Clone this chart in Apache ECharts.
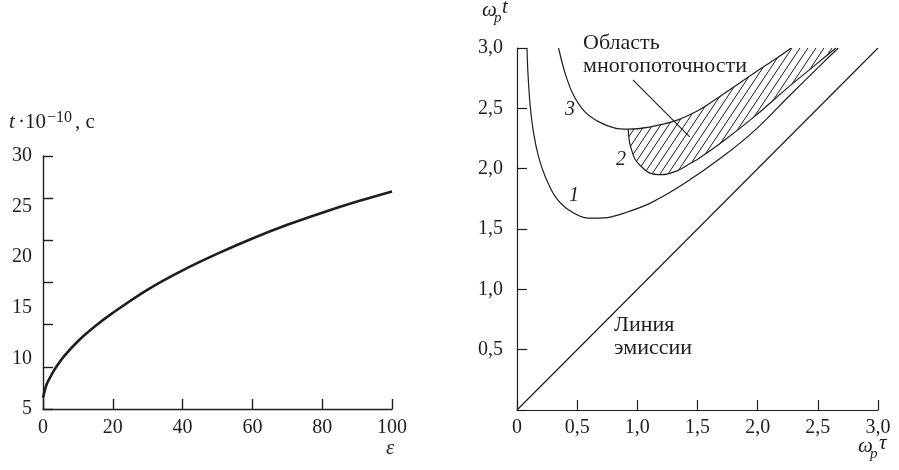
<!DOCTYPE html>
<html><head><meta charset="utf-8">
<script src="https://cdn.jsdelivr.net/npm/echarts@6/dist/echarts.min.js"></script>
<style>html,body{margin:0;padding:0;background:#fff}#c{width:899px;height:470px}</style>
</head><body><div id="c"></div>
<script>
// ---- Left chart data ----
const epsValues = [0, 1, 2, 3.5, 6, 10, 15, 20, 30, 40, 50, 60, 70, 80, 90, 100];
const tValues   = [6.1, 7.4, 8.1, 9.0, 10.2, 11.7, 13.2, 14.5, 16.8, 18.7, 20.35, 21.85, 23.2, 24.4, 25.5, 26.5];
const leftXLabels = [0, 20, 40, 60, 80, 100];
const leftYLabels = [5, 10, 15, 20, 25, 30];
const leftYTicks  = [5, 9.17, 13.33, 17.5, 21.67, 25.83, 30];

// ---- Right chart data ----
const curve1Tau = [0.083, 0.091, 0.11, 0.138, 0.179, 0.234, 0.317, 0.427, 0.593, 0.75, 0.90, 1.10, 1.38, 1.71, 1.99, 2.26, 2.54, 2.67];
const curve1T   = [3.0,   2.79,  2.515, 2.294, 2.10, 1.935, 1.77,  1.66,  1.59,  1.595, 1.635, 1.71, 1.87, 2.10, 2.33, 2.60, 2.875, 3.0];
const curve2Tau = [0.924, 0.935, 0.952, 0.98, 1.02, 1.10, 1.20, 1.325, 1.435, 1.52, 1.71, 1.99, 2.26, 2.48, 2.65];
const curve2T   = [2.327, 2.22,  2.156, 2.08, 2.03, 1.965, 1.95, 1.98, 2.04, 2.09, 2.225, 2.446, 2.68, 2.86, 3.0];
const curve3Tau = [0.345, 0.40, 0.469, 0.565, 0.676, 0.814, 0.924, 1.10, 1.325, 1.52, 1.71, 1.99, 2.15, 2.28];
const curve3T   = [3.0,   2.79, 2.61,  2.47,  2.39,  2.336, 2.327, 2.345, 2.40, 2.49, 2.615, 2.805, 2.91, 3.0];
const emissionTau = [0, 3];
const emissionT   = [0, 3];
const leaderTau = [0.963, 1.435];
const leaderT   = [2.736, 2.264];
const hatchStartTau = 0.924;

const zip = (a, b) => a.map((v, i) => [v, b[i]]);
const INK = '#1e1e1e';
const SERIF = 'Liberation Serif';
const comma = v => v === 0 ? '0' : v.toFixed(1).replace('.', ',');

function hatchCanvas() {
  const w = 8, h = 12;
  const c = document.createElement('canvas');
  c.width = w; c.height = h;
  const g = c.getContext('2d');
  g.strokeStyle = INK; g.lineWidth = 1;
  for (const o of [-w, 0, w]) {
    g.beginPath(); g.moveTo(o, h); g.lineTo(o + w, 0); g.stroke();
  }
  return c;
}
const hatchImg = hatchCanvas();

const upper = zip(curve3Tau, curve3T).filter(p => p[0] >= hatchStartTau);
const lower = zip(curve2Tau, curve2T).filter(p => p[0] >= hatchStartTau);
const hatchPoly = upper.concat(lower.slice().reverse());

const chart = echarts.init(document.getElementById('c'), null, {renderer: 'canvas'});

const axisCommon = (extra) => Object.assign({
  type: 'value',
  splitLine: {show: false},
  axisLine: {onZero: false, lineStyle: {color: INK, width: 1.4}},
  axisTick: {inside: true, length: 10, lineStyle: {color: INK, width: 1.4}},
  axisLabel: {color: INK, fontFamily: SERIF, fontSize: 20}
}, extra);

chart.setOption({
  animation: false,
  backgroundColor: '#fff',
  grid: [
    {left: 43, top: 156, width: 349, height: 253},
    {left: 517, top: 48, width: 361, height: 362}
  ],
  xAxis: [
    axisCommon({gridIndex: 0, min: 0, max: 100, interval: 20,
      axisLabel: {color: INK, fontFamily: SERIF, fontSize: 20, margin: 9, customValues: leftXLabels}}),
    axisCommon({gridIndex: 1, min: 0, max: 3, interval: 0.5,
      axisLine: {onZero: false, lineStyle: {color: INK, width: 1.2}},
      axisTick: {inside: true, length: 10, lineStyle: {color: INK, width: 1.2}},
      axisLabel: {color: INK, fontFamily: SERIF, fontSize: 20, margin: 8, formatter: comma}})
  ],
  yAxis: [
    axisCommon({gridIndex: 0, min: 5, max: 30, interval: 5,
      axisTick: {inside: true, length: 10, customValues: leftYTicks, lineStyle: {color: INK, width: 1.4}},
      axisLabel: {color: INK, fontFamily: SERIF, fontSize: 20, margin: 11, customValues: leftYLabels}}),
    axisCommon({gridIndex: 1, min: 0, max: 3, interval: 0.5,
      axisLine: {onZero: false, lineStyle: {color: INK, width: 1.2}},
      axisTick: {inside: true, length: 10, lineStyle: {color: INK, width: 1.2}},
      axisLabel: {color: INK, fontFamily: SERIF, fontSize: 20, margin: 14,
        formatter: v => v === 0 ? '' : comma(v)}})
  ],
  series: [
    {type: 'line', xAxisIndex: 0, yAxisIndex: 0, data: zip(epsValues, tValues), smooth: 0.35,
      symbol: 'none', lineStyle: {color: INK, width: 2.6}},
    {type: 'custom', xAxisIndex: 1, yAxisIndex: 1, data: [hatchPoly[0]], clip: false, silent: true, z: 1,
      renderItem: (params, api) => ({
        type: 'polygon',
        shape: {points: hatchPoly.map(p => api.coord(p))},
        style: {fill: {image: hatchImg, repeat: 'repeat'}, stroke: null}
      })},
    {type: 'line', xAxisIndex: 1, yAxisIndex: 1, data: zip(curve1Tau, curve1T), smooth: 0.3,
      symbol: 'none', lineStyle: {color: INK, width: 1.2}, z: 3},
    {type: 'line', xAxisIndex: 1, yAxisIndex: 1, data: zip(curve2Tau, curve2T), smooth: 0.3,
      symbol: 'none', lineStyle: {color: INK, width: 1.2}, z: 3},
    {type: 'line', xAxisIndex: 1, yAxisIndex: 1, data: zip(curve3Tau, curve3T), smooth: 0.3,
      symbol: 'none', lineStyle: {color: INK, width: 1.2}, z: 3},
    {type: 'line', xAxisIndex: 1, yAxisIndex: 1, data: zip(emissionTau, emissionT),
      symbol: 'none', lineStyle: {color: INK, width: 1.2}, z: 3},
    {type: 'line', xAxisIndex: 1, yAxisIndex: 1, data: zip(leaderTau, leaderT),
      symbol: 'none', lineStyle: {color: INK, width: 1.1}, z: 3}
  ],
  graphic: [
    // left axis title: t·10^-10, с
    {type: 'text', left: 9, top: 112, style: {text: 't', font: 'italic 21px "Liberation Serif"', fill: INK}},
    {type: 'text', left: 18, top: 112, style: {text: '·10', font: '21px "Liberation Serif"', fill: INK}},
    {type: 'text', left: 47, top: 110, style: {text: '−10', font: '16px "Liberation Serif"', fill: INK}},
    {type: 'text', left: 75, top: 112, style: {text: ', с', font: '21px "Liberation Serif"', fill: INK}},
    {type: 'text', left: 386, top: 438, style: {text: 'ε', font: 'italic 21px "Liberation Serif"', fill: INK}},
    // right axis titles
    {type: 'text', left: 482, top: 0, style: {text: 'ω', font: 'italic 21px "Liberation Serif"', fill: INK}},
    {type: 'text', left: 494, top: 11, style: {text: 'p', font: 'italic 15px "Liberation Serif"', fill: INK}},
    {type: 'text', left: 502, top: -3, style: {text: 't', font: 'italic 21px "Liberation Serif"', fill: INK}},
    {type: 'text', left: 858, top: 436, style: {text: 'ω', font: 'italic 21px "Liberation Serif"', fill: INK}},
    {type: 'text', left: 870, top: 447, style: {text: 'p', font: 'italic 15px "Liberation Serif"', fill: INK}},
    {type: 'text', left: 879, top: 433, style: {text: 'τ', font: 'italic 21px "Liberation Serif"', fill: INK}},
    // curve numbers
    {type: 'text', left: 565, top: 100, style: {text: '3', font: 'italic 20px "Liberation Serif"', fill: INK}},
    {type: 'text', left: 616, top: 150, style: {text: '2', font: 'italic 20px "Liberation Serif"', fill: INK}},
    {type: 'text', left: 569, top: 186, style: {text: '1', font: 'italic 20px "Liberation Serif"', fill: INK}},
    // annotations
    {type: 'text', left: 583, top: 32, style: {text: 'Область', font: '22px "Liberation Serif"', fill: INK}},
    {type: 'text', left: 583, top: 55, style: {text: 'многопоточности', font: '22px "Liberation Serif"', fill: INK}},
    {type: 'text', left: 614, top: 314, style: {text: 'Линия', font: '22px "Liberation Serif"', fill: INK}},
    {type: 'text', left: 614, top: 337, style: {text: 'эмиссии', font: '22px "Liberation Serif"', fill: INK}}
  ]
});
</script></body></html>
